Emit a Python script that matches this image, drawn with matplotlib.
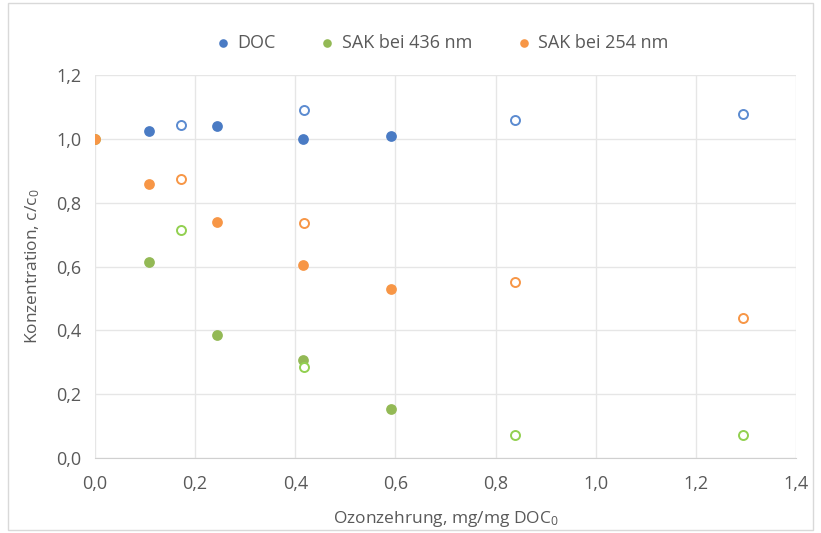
import matplotlib
matplotlib.use("Agg")
import matplotlib.pyplot as plt
from matplotlib.patches import Rectangle
from matplotlib.ticker import FuncFormatter

plt.rcParams['font.family'] = ['Open Sans', 'DejaVu Sans']
plt.rcParams['mathtext.fontset'] = 'custom'
plt.rcParams['mathtext.rm'] = 'Open Sans'

# Filled markers (legend series)
doc_x = [0.108, 0.244, 0.416, 0.592]
doc_y = [1.025, 1.040, 0.998, 1.010]
sak436_x = [0.0, 0.108, 0.244, 0.416, 0.592]
sak436_y = [1.0, 0.615, 0.385, 0.307, 0.154]
sak254_x = [0.0, 0.108, 0.244, 0.416, 0.592]
sak254_y = [1.0, 0.860, 0.740, 0.605, 0.528]

# Open markers
doc_open_x = [0.172, 0.418, 0.838, 1.294]
doc_open_y = [1.043, 1.089, 1.058, 1.078]
sak436_open_x = [0.172, 0.418, 0.838, 1.294]
sak436_open_y = [0.715, 0.285, 0.071, 0.071]
sak254_open_x = [0.172, 0.418, 0.838, 1.294]
sak254_open_y = [0.873, 0.735, 0.553, 0.440]

blue = '#4A7BC4'
green = '#93B955'
orange = '#F79646'
txt = '#595959'

fig = plt.figure(figsize=(8.21, 5.33), dpi=100)
ax = fig.add_axes([0.1157, 0.1407, 0.8539, 0.7186])

ax.scatter(sak436_x, sak436_y, s=60, color=green, label='SAK bei 436 nm', zorder=3, linewidths=0)
ax.scatter(doc_x, doc_y, s=60, color=blue, label='DOC', zorder=3, linewidths=0)
ax.scatter(sak254_x, sak254_y, s=60, color=orange, label='SAK bei 254 nm', zorder=3, linewidths=0)

ax.scatter(doc_open_x, doc_open_y, s=42, facecolors='white', edgecolors='#5B8BD0', linewidths=1.4, zorder=3)
ax.scatter(sak436_open_x, sak436_open_y, s=42, facecolors='white', edgecolors='#92D050', linewidths=1.4, zorder=3)
ax.scatter(sak254_open_x, sak254_open_y, s=42, facecolors='white', edgecolors='#F79646', linewidths=1.4, zorder=3)

ax.set_xlim(0, 1.4)
ax.set_ylim(0, 1.2)
ax.set_xticks([0, 0.2, 0.4, 0.6, 0.8, 1.0, 1.2, 1.4])
ax.set_yticks([0, 0.2, 0.4, 0.6, 0.8, 1.0, 1.2])
fmt = FuncFormatter(lambda v, p: f"{v:.1f}".replace('.', ','))
ax.xaxis.set_major_formatter(fmt)
ax.yaxis.set_major_formatter(fmt)
ax.tick_params(length=0, labelsize=13, labelcolor=txt)
ax.tick_params(axis='x', pad=12)
ax.tick_params(axis='y', pad=10)
ax.grid(True, color='#E6E6E6', linewidth=1)
ax.set_axisbelow(True)
for s in ['left', 'right', 'top']:
    ax.spines[s].set_visible(False)
ax.spines['bottom'].set_color('#D0D0D0')

ax.set_xlabel(r'Ozonzehrung, mg/mg DOC$\mathregular{_0}$', fontsize=12.5, color=txt, labelpad=12)
ax.set_ylabel(r'Konzentration, c/c$\mathregular{_0}$', fontsize=12.5, color=txt, labelpad=10)

handles, labels = ax.get_legend_handles_labels()
order = [1, 0, 2]
fig.legend([handles[i] for i in order], [labels[i] for i in order],
           loc='center', bbox_to_anchor=(0.532, 0.919), ncol=3, frameon=False,
           fontsize=13, labelcolor=txt, handletextpad=-0.2, columnspacing=1.85,
           markerscale=0.8)

fig.patches.append(Rectangle((0.01, 0.005), 0.98, 0.99, transform=fig.transFigure,
                             fill=False, edgecolor='#D9D9D9', linewidth=1))

fig.savefig('out.png', dpi=100)
